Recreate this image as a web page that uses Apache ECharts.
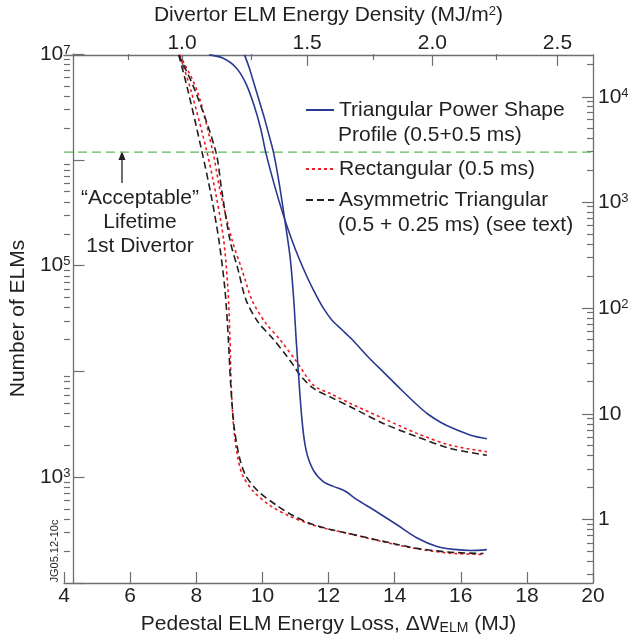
<!DOCTYPE html>
<html>
<head>
<meta charset="utf-8">
<script src="https://cdn.jsdelivr.net/npm/echarts@6/dist/echarts.min.js"></script>
<style>
  html, body { margin: 0; padding: 0; background: #ffffff; }
  #chart { width: 643px; height: 642px; }
</style>
</head>
<body>
<div id="chart"></div>
<script>
// Number of ELMs tolerated by the divertor vs pedestal ELM energy loss (MJ)
// Each curve: [energy loss (MJ), number of ELMs]
const triUpper = [[8.39,1.0e7],[8.8,9.33e6],[9.2,7.59e6],[9.5,5.37e6],[9.75,3.31e6],[9.95,2.0e6],[10.1,1.2e6],[10.3,6.92e5],[10.5,4.17e5],[10.7,2.63e5],[10.9,1.74e5],[11.1,1.2e5],[11.35,7.94e4],[11.6,5.5e4],[11.85,3.98e4],[12.1,3.09e4],[12.4,2.51e4],[12.7,2.04e4],[13.2,1.38e4],[13.7,9.66e3],[14.2,6.76e3],[14.7,4.79e3],[15.0,3.98e3],[15.4,3.31e3],[15.8,2.88e3],[16.3,2.51e3],[16.79,2.32e3]];
const triLower = [[9.46,1.0e7],[9.6,7.59e6],[9.72,5.71e6],[9.9,3.72e6],[10.08,2.4e6],[10.2,1.74e6],[10.33,1.22e6],[10.5,6.31e5],[10.69,2.59e5],[10.84,1.21e5],[10.95,4.75e4],[11.02,2.07e4],[11.19,3.72e3],[11.32,1.82e3],[11.54,1.17e3],[11.84,912],[12.15,822],[12.51,738],[12.86,615],[13.36,494],[14.07,356],[14.68,267],[15.28,222],[15.8,208],[16.3,203],[16.79,207]];
const rectUpper = [[7.5,1.0e7],[8.025,4.59e6],[8.5,1.22e6],[8.72,5.21e5],[9.085,1.76e5],[9.39,9.12e4],[9.69,4.74e4],[10.08,2.95e4],[10.54,2.0e4],[11.04,1.24e4],[11.545,7.46e3],[12.05,6.22e3],[12.66,5.01e3],[13.66,3.61e3],[14.675,2.61e3],[15.68,2.02e3],[16.79,1.75e3]];
const rectLower = [[7.5,1.0e7],[7.84,4.59e6],[8.32,1.22e6],[8.6,4.68e5],[8.83,1.76e5],[8.96,5.89e4],[9.02,2.07e4],[9.055,7.76e3],[9.13,3.02e3],[9.25,1.58e3],[9.4,1.05e3],[9.72,741],[10.235,541],[10.81,431],[11.385,366],[11.9,328],[12.55,297],[13.615,247],[14.63,212],[15.65,192],[16.69,186]];
const asymUpper = [[7.47,1.0e7],[7.965,4.59e6],[8.59,1.22e6],[8.77,5.21e5],[9.02,1.76e5],[9.27,9.12e4],[9.51,4.74e4],[9.87,2.95e4],[10.3,2.09e4],[10.69,1.47e4],[10.94,1.15e4],[11.14,9.29e3],[11.55,6.95e3],[12.05,5.78e3],[12.66,4.66e3],[13.66,3.24e3],[14.68,2.42e3],[15.68,1.88e3],[16.79,1.62e3]];
const asymLower = [[7.47,1.0e7],[7.75,4.59e6],[8.17,1.22e6],[8.45,4.68e5],[8.685,1.76e5],[8.87,5.89e4],[8.97,2.07e4],[9.04,7.76e3],[9.145,3.02e3],[9.3,1.58e3],[9.49,1.05e3],[9.87,741],[10.44,541],[10.95,431],[11.45,366],[11.94,328],[12.55,297],[13.615,250],[14.63,214],[15.65,196],[16.69,190]];

// "acceptable" divertor lifetime, in ELMs
const acceptableElms = [[4, 1.2e6], [20, 1.2e6]];

// axis tick values
const energyTicks = [4, 6, 8, 10, 12, 14, 16, 18, 20];
const densityTicks = [1.0, 1.5, 2.0, 2.5];
const densityMinorTicks = [0.75, 1.25, 1.75, 2.25];
const elmDecades = [2, 3, 4, 5, 6, 7];
const elmLabelDecades = [3, 5, 7];
const pulseDecades = [0, 1, 2, 3, 4];

const wettedArea = 7.57;      // m^2: energy (MJ) -> energy density (MJ/m^2)
const elmsPerPulse = 400;      // right scale = ELMs / pulse

const FONT = '"Liberation Sans", Arial, Helvetica, sans-serif';
const TXT = '#231f20';
const FRAME = '#6d6e71';

function minorLogTicks(lo, hi) {
  const out = [];
  for (let k = -2; k <= 8; k++) {
    for (let m = 2; m <= 9; m++) {
      const v = Math.log10(m * Math.pow(10, k));
      if (v > lo + 1e-9 && v < hi - 1e-9) out.push(v);
    }
  }
  return out;
}
const elmMin = 2, elmMax = 7;
const pulseMin = Math.log10(Math.pow(10, elmMin) / elmsPerPulse);
const pulseMax = Math.log10(Math.pow(10, elmMax) / elmsPerPulse);

const supRich = {
  b: { fontSize: 21, lineHeight: 21, verticalAlign: 'bottom', color: TXT, fontFamily: FONT },
  sup: { fontSize: 13, lineHeight: 13, verticalAlign: 'top', padding: [0, 0, 12, 0], color: TXT, fontFamily: FONT }
};

const gridRect = { left: 64, right: 50, top: 54, bottom: 59 };
const frameLine = { show: true, onZero: false, lineStyle: { color: FRAME, width: 1.3 } };
const noLine = { show: false, onZero: false };
const majorTick = (vals) => ({ show: true, inside: true, length: 11, customValues: vals, lineStyle: { color: FRAME, width: 1.2 } });
const minorTick = (vals) => ({ show: true, inside: true, length: 6, customValues: vals, lineStyle: { color: FRAME, width: 1.2 } });

function curve(name, data, color, type) {
  return {
    type: 'line', name, data, xAxisIndex: 0, yAxisIndex: 0,
    symbol: 'none', smooth: 0.3, silent: true,
    lineStyle: { color, width: 1.6, type }, itemStyle: { color }
  };
}

const BLUE = '#2b3990', RED = '#ed1c24', BLACK = '#231f20', GREEN = '#5cb85c';
const nameTri = 'Triangular Power Shape';
const nameRect = 'Rectangular (0.5 ms)';
const nameAsym = 'Asymmetric Triangular';

const legendBase = {
  orient: 'vertical', left: 305, padding: 0, itemWidth: 28, itemHeight: 12,
  itemStyle: { opacity: 0 }, selectedMode: false,
  textStyle: { fontSize: 21, lineHeight: 24, color: TXT, fontFamily: FONT }
};

const option = {
  animation: false,
  backgroundColor: '#ffffff',
  textStyle: { fontFamily: FONT },
  grid: [Object.assign({}, gridRect), Object.assign({}, gridRect), Object.assign({}, gridRect)],
  legend: [
    Object.assign({}, legendBase, { top: 98, data: [nameTri] }),
    Object.assign({}, legendBase, { top: 157, data: [nameRect] }),
    Object.assign({}, legendBase, { top: 188, data: [nameAsym] })
  ],
  xAxis: [
    {
      gridIndex: 0, type: 'value', position: 'bottom', min: 4, max: 20,
      axisLine: frameLine, splitLine: { show: false },
      axisTick: majorTick(energyTicks),
      axisLabel: { customValues: energyTicks, fontSize: 21, color: TXT, margin: 3, fontFamily: FONT },
      name: 'Pedestal ELM Energy Loss, \u0394W{sub|ELM} (MJ)', nameLocation: 'middle', nameGap: 28,
      nameTextStyle: {
        fontSize: 21, color: TXT, fontFamily: FONT, verticalAlign: 'top',
        rich: {
          sub: { fontSize: 14, lineHeight: 14, verticalAlign: 'bottom', padding: [9, 0, 0, 0], color: TXT, fontFamily: FONT }
        }
      }
    },
    {
      gridIndex: 0, type: 'value', position: 'top', min: 4 / wettedArea, max: 20 / wettedArea,
      axisLine: frameLine, splitLine: { show: false },
      axisTick: majorTick(densityTicks),
      axisLabel: { customValues: densityTicks, formatter: v => v.toFixed(1), fontSize: 21, color: TXT, margin: 1, fontFamily: FONT },
      name: 'Divertor ELM Energy Density (MJ/m{sup|2})', nameLocation: 'middle', nameGap: 23,
      nameTextStyle: {
        fontSize: 21, color: TXT, fontFamily: FONT,
        rich: {
          sup: { fontSize: 13, lineHeight: 13, verticalAlign: 'top', padding: [0, 0, 10, 0], color: TXT, fontFamily: FONT }
        }
      }
    },
    {
      gridIndex: 1, type: 'value', position: 'top', min: 4 / wettedArea, max: 20 / wettedArea,
      axisLine: noLine, splitLine: { show: false }, axisLabel: { show: false },
      axisTick: minorTick(densityMinorTicks)
    },
    { gridIndex: 2, type: 'value', min: 4, max: 20, show: false, axisLine: noLine }
  ],
  yAxis: [
    { gridIndex: 0, type: 'log', logBase: 10, min: 100, max: 1e7, show: false, position: 'left', axisLine: noLine },
    {
      gridIndex: 0, type: 'value', position: 'right', min: pulseMin, max: pulseMax,
      axisLine: frameLine, splitLine: { show: false },
      axisTick: majorTick(pulseDecades),
      axisLabel: {
        customValues: pulseDecades, margin: 5, color: TXT, fontSize: 21, fontFamily: FONT,
        formatter: v => { const e = Math.round(v); return e === 0 ? '{b|1}' : e === 1 ? '{b|10}' : '{b|10}{sup|' + e + '}'; },
        rich: supRich
      }
    },
    {
      gridIndex: 1, type: 'value', position: 'left', min: elmMin, max: elmMax,
      axisLine: frameLine, splitLine: { show: false },
      axisTick: majorTick(elmDecades),
      axisLabel: {
        customValues: elmLabelDecades, margin: 3, color: TXT, fontSize: 21, fontFamily: FONT,
        formatter: v => '{b|10}{sup|' + Math.round(v) + '}',
        rich: supRich
      },
      name: 'Number of ELMs', nameLocation: 'middle', nameGap: 34,
      nameTextStyle: { fontSize: 21, color: TXT, fontFamily: FONT }
    },
    {
      gridIndex: 1, type: 'value', position: 'right', min: pulseMin, max: pulseMax,
      axisLine: noLine, splitLine: { show: false }, axisLabel: { show: false },
      axisTick: minorTick(minorLogTicks(pulseMin, pulseMax))
    },
    {
      gridIndex: 2, type: 'value', position: 'left', min: elmMin, max: elmMax,
      axisLine: noLine, splitLine: { show: false }, axisLabel: { show: false },
      axisTick: minorTick(minorLogTicks(elmMin, elmMax))
    }
  ],
  series: [
    {
      type: 'line', name: 'acceptable', data: acceptableElms, xAxisIndex: 0, yAxisIndex: 0,
      symbol: 'none', silent: true, lineStyle: { color: GREEN, width: 1.4, type: [9, 5] }
    },
    curve(nameRect, rectUpper, RED, [3, 3]),
    curve(nameRect, rectLower, RED, [3, 3]),
    curve(nameAsym, asymUpper, BLACK, [7, 4]),
    curve(nameAsym, asymLower, BLACK, [7, 4]),
    curve(nameTri, triUpper, BLUE, 'solid'),
    curve(nameTri, triLower, BLUE, 'solid')
  ],
  graphic: [
    { type: 'text', left: 338, top: 125, style: { text: 'Profile (0.5+0.5 ms)', font: '21px ' + FONT, fill: TXT } },
    { type: 'text', left: 338, top: 215, style: { text: '(0.5 + 0.25 ms) (see text)', font: '21px ' + FONT, fill: TXT } },
    { type: 'text', x: 140, y: 198, style: { text: '\u201CAcceptable\u201D', font: '21px ' + FONT, fill: TXT, align: 'center', verticalAlign: 'middle' } },
    { type: 'text', x: 140, y: 222, style: { text: 'Lifetime', font: '21px ' + FONT, fill: TXT, align: 'center', verticalAlign: 'middle' } },
    { type: 'text', x: 140, y: 246, style: { text: '1st Divertor', font: '21px ' + FONT, fill: TXT, align: 'center', verticalAlign: 'middle' } },
    { type: 'line', shape: { x1: 122, y1: 183, x2: 122, y2: 158 }, style: { stroke: TXT, lineWidth: 1.3 } },
    { type: 'polygon', shape: { points: [[122, 151], [118.5, 160], [125.5, 160]] }, style: { fill: TXT } },
    { type: 'text', x: 55, y: 551, rotation: Math.PI / 2, style: { text: 'JG05.12-10c', font: '11px ' + FONT, fill: TXT, align: 'center', verticalAlign: 'middle' } }
  ]
};

const chart = echarts.init(document.getElementById('chart'), null, { renderer: 'canvas' });
chart.setOption(option);
</script>
</body>
</html>
